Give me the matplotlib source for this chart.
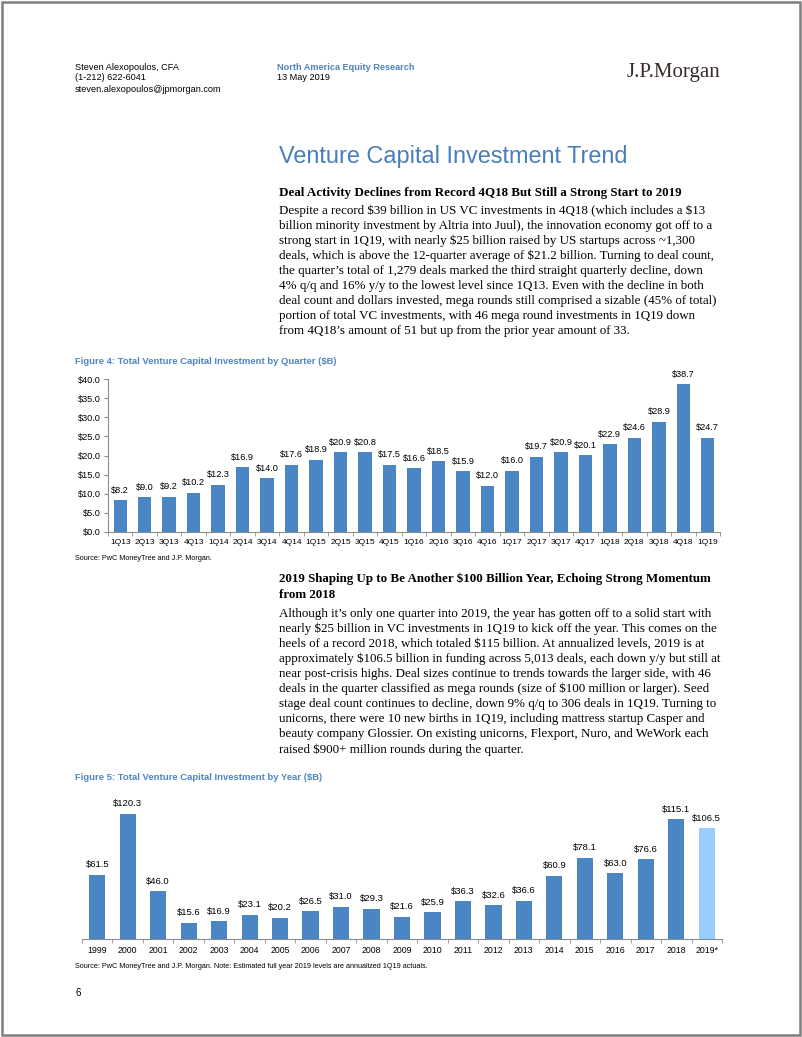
import matplotlib
matplotlib.use("Agg")
import matplotlib.pyplot as plt
from matplotlib.patches import Rectangle
from matplotlib.ticker import FixedLocator

quarters = ["1Q13", "2Q13", "3Q13", "4Q13", "1Q14", "2Q14", "3Q14", "4Q14",
            "1Q15", "2Q15", "3Q15", "4Q15", "1Q16", "2Q16", "3Q16", "4Q16",
            "1Q17", "2Q17", "3Q17", "4Q17", "1Q18", "2Q18", "3Q18", "4Q18", "1Q19"]
quarter_vals = [8.2, 9.0, 9.2, 10.2, 12.3, 16.9, 14.0, 17.6,
                18.9, 20.9, 20.8, 17.5, 16.6, 18.5, 15.9, 12.0,
                16.0, 19.7, 20.9, 20.1, 22.9, 24.6, 28.9, 38.7, 24.7]

years = ["1999", "2000", "2001", "2002", "2003", "2004", "2005", "2006", "2007",
         "2008", "2009", "2010", "2011", "2012", "2013", "2014", "2015", "2016",
         "2017", "2018", "2019*"]
year_vals = [61.5, 120.3, 46.0, 15.6, 16.9, 23.1, 20.2, 26.5, 31.0,
             29.3, 21.6, 25.9, 36.3, 32.6, 36.6, 60.9, 78.1, 63.0,
             76.6, 115.1, 106.5]

para1 = [
    "Despite a record $39 billion in US VC investments in 4Q18 (which includes a $13",
    "billion minority investment by Altria into Juul), the innovation economy got off to a",
    "strong start in 1Q19, with nearly $25 billion raised by US startups across ~1,300",
    "deals, which is above the 12-quarter average of $21.2 billion. Turning to deal count,",
    "the quarter\u2019s total of 1,279 deals marked the third straight quarterly decline, down",
    "4% q/q and 16% y/y to the lowest level since 1Q13. Even with the decline in both",
    "deal count and dollars invested, mega rounds still comprised a sizable (45% of total)",
    "portion of total VC investments, with 46 mega round investments in 1Q19 down",
    "from 4Q18\u2019s amount of 51 but up from the prior year amount of 33.",
]
para2 = [
    "Although it\u2019s only one quarter into 2019, the year has gotten off to a solid start with",
    "nearly $25 billion in VC investments in 1Q19 to kick off the year. This comes on the",
    "heels of a record 2018, which totaled $115 billion. At annualized levels, 2019 is at",
    "approximately $106.5 billion in funding across 5,013 deals, each down y/y but still at",
    "near post-crisis highs. Deal sizes continue to trends towards the larger side, with 46",
    "deals in the quarter classified as mega rounds (size of $100 million or larger). Seed",
    "stage deal count continues to decline, down 9% q/q to 306 deals in 1Q19. Turning to",
    "unicorns, there were 10 new births in 1Q19, including mattress startup Casper and",
    "beauty company Glossier. On existing unicorns, Flexport, Nuro, and WeWork each",
    "raised $900+ million rounds during the quarter.",
]

W, H = 802, 1037
BAR = "#4A86C4"
LIGHT = "#99CCFF"
TITLE_BLUE = "#4A7EBB"
AXIS = "#8C8C8C"
SANS = "Liberation Sans"
SERIF = "Liberation Serif"

fig = plt.figure(figsize=(W / 100, H / 100), dpi=100)


def txt(x, y, s, **kw):
    kw.setdefault("family", SANS)
    kw.setdefault("va", "center")
    fig.text(x / W, 1 - y / H, s, parse_math=False, **kw)


# page frame
fig.patches.append(Rectangle((0.002, 0.002), 0.996, 0.996, transform=fig.transFigure,
                             fill=False, edgecolor="#7F7F7F", linewidth=1.8))

# header
txt(75, 67, "Steven Alexopoulos, CFA", size=6.6)
txt(75, 78, "(1-212) 622-6041", size=6.6)
txt(75, 89, "steven.alexopoulos@jpmorgan.com", size=6.6)
txt(277, 67, "North America Equity Research", size=6.6, color="#4F81BD", weight="bold")
txt(277, 78, "13 May 2019", size=6.6)
txt(720, 72, "J.P.Morgan", size=15, family=SERIF, color="#3A2C2A", ha="right")

txt(279, 157, "Venture Capital Investment Trend", size=16.9, color=TITLE_BLUE)

txt(279, 193, "Deal Activity Declines from Record 4Q18 But Still a Strong Start to 2019",
    size=9.4, family=SERIF, weight="bold")
for i, line in enumerate(para1):
    txt(279, 211 + i * 15.0, line, size=9.4, family=SERIF)

txt(75, 361, "Figure 4: Total Venture Capital Investment by Quarter ($B)",
    size=6.8, color="#4F86C3", weight="bold")
txt(75, 559, "Source: PwC MoneyTree and J.P. Morgan.", size=5.2)

txt(279, 579, "2019 Shaping Up to Be Another $100 Billion Year, Echoing Strong Momentum",
    size=9.4, family=SERIF, weight="bold")
txt(279, 595, "from 2018", size=9.4, family=SERIF, weight="bold")
for i, line in enumerate(para2):
    txt(279, 613.6 + i * 15.1, line, size=9.4, family=SERIF)

txt(75, 777, "Figure 5: Total Venture Capital Investment by Year ($B)",
    size=6.8, color="#4F86C3", weight="bold")
txt(75, 966, "Source: PwC MoneyTree and J.P. Morgan. Note: Estimated full year 2019 levels are annualized 1Q19 actuals.",
    size=5.2)
txt(75, 993, "6", size=7)


def style_axis(ax, n, labelsize):
    for s in ("top", "right"):
        ax.spines[s].set_visible(False)
    ax.spines["bottom"].set_color(AXIS)
    ax.spines["left"].set_color(AXIS)
    ax.set_xlim(-0.5, n - 0.5)
    ax.set_xticks(range(n))
    ax.xaxis.set_minor_locator(FixedLocator([i + 0.5 for i in range(-1, n)]))
    ax.tick_params(axis="x", which="major", length=0, labelsize=labelsize, pad=5)
    ax.tick_params(axis="x", which="minor", length=3, color=AXIS, direction="out")
    ax.set_facecolor("none")


# Figure 4: quarterly
ax1 = fig.add_axes([108 / W, 1 - 531.7 / H, 612 / W, 152.4 / H])
x1 = range(len(quarters))
ax1.bar(x1, quarter_vals, width=0.55, color=BAR)
style_axis(ax1, len(quarters), 6.0)
ax1.set_xticklabels(quarters, family=SANS)
ax1.set_ylim(0, 40)
ax1.set_yticks([0, 5, 10, 15, 20, 25, 30, 35, 40])
ax1.set_yticklabels([f"${v:.1f}" for v in ax1.get_yticks()], family=SANS)
ax1.tick_params(axis="y", length=3, color=AXIS, labelsize=6.6, pad=2)
for xi, v in zip(x1, quarter_vals):
    ax1.annotate(f"${v:.1f}", (xi, v), xytext=(0, 4), textcoords="offset points",
                 ha="center", va="bottom", fontsize=6.6, family=SANS)

# Figure 5: yearly
ax2 = fig.add_axes([82 / W, 1 - 939 / H, 640 / W, 145.6 / H])
x2 = range(len(years))
colors = [BAR] * (len(years) - 1) + [LIGHT]
ax2.bar(x2, year_vals, width=0.53, color=colors)
style_axis(ax2, len(years), 6.3)
ax2.spines["left"].set_visible(False)
ax2.set_xticklabels(years, family=SANS)
ax2.set_ylim(0, 140)
ax2.set_yticks([])
for xi, v in zip(x2, year_vals):
    ax2.annotate(f"${v:.1f}", (xi, v), xytext=(0, 4), textcoords="offset points",
                 ha="center", va="bottom", fontsize=6.8, family=SANS)

fig.savefig("out.png", dpi=100)
